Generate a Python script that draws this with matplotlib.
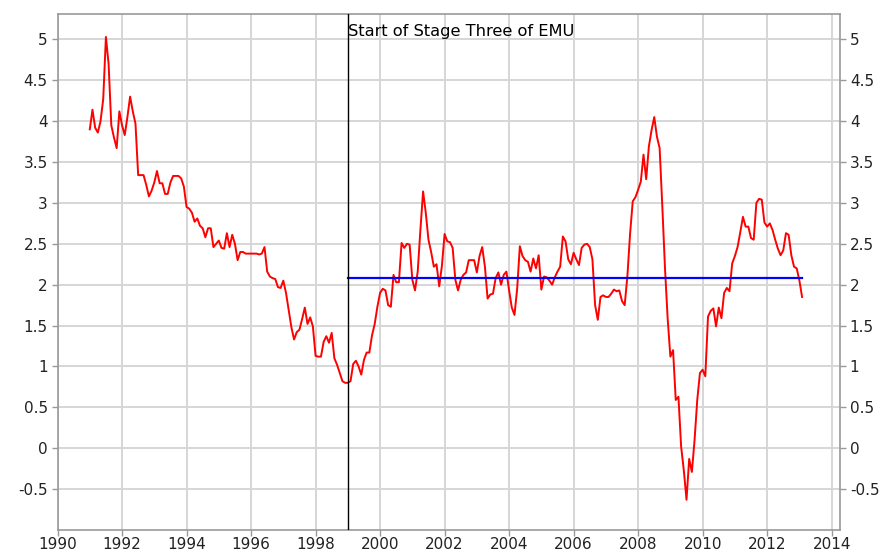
import numpy as np
import matplotlib
matplotlib.use('Agg')
import matplotlib.pyplot as plt
from matplotlib.ticker import FuncFormatter

# Monthly HICP inflation (% y-o-y), Jan 1991 - Feb 2013
hicp_1991 = [3.90, 4.14, 3.92, 3.86, 4.00, 4.27, 5.03, 4.70, 3.95, 3.80, 3.67, 4.12]
hicp_1992 = [3.95, 3.83, 4.05, 4.30, 4.12, 3.97, 3.34, 3.34, 3.34, 3.22, 3.08, 3.15]
hicp_1993 = [3.25, 3.39, 3.24, 3.24, 3.11, 3.11, 3.25, 3.33, 3.33, 3.33, 3.30, 3.20]
hicp_1994 = [2.95, 2.93, 2.88, 2.77, 2.81, 2.72, 2.69, 2.58, 2.69, 2.69, 2.46, 2.50]
hicp_1995 = [2.54, 2.45, 2.44, 2.63, 2.46, 2.61, 2.50, 2.30, 2.40, 2.40, 2.38, 2.38]
hicp_1996 = [2.38, 2.38, 2.38, 2.37, 2.38, 2.46, 2.16, 2.10, 2.08, 2.07, 1.97, 1.96]
hicp_1997 = [2.05, 1.90, 1.69, 1.48, 1.33, 1.42, 1.45, 1.58, 1.72, 1.52, 1.60, 1.49]
hicp_1998 = [1.13, 1.12, 1.12, 1.30, 1.37, 1.29, 1.41, 1.10, 1.02, 0.92, 0.82, 0.80]
hicp_1999 = [0.80, 0.82, 1.03, 1.07, 1.00, 0.90, 1.08, 1.17, 1.17, 1.38, 1.52, 1.73]
hicp_2000 = [1.90, 1.95, 1.93, 1.75, 1.73, 2.12, 2.03, 2.03, 2.51, 2.45, 2.50, 2.49]
hicp_2001 = [2.06, 1.93, 2.16, 2.67, 3.14, 2.88, 2.55, 2.40, 2.22, 2.25, 1.98, 2.23]
hicp_2002 = [2.62, 2.53, 2.52, 2.45, 2.06, 1.93, 2.06, 2.12, 2.15, 2.30, 2.30, 2.30]
hicp_2003 = [2.15, 2.35, 2.46, 2.22, 1.83, 1.88, 1.89, 2.08, 2.15, 2.00, 2.12, 2.16]
hicp_2004 = [1.93, 1.72, 1.63, 1.95, 2.47, 2.35, 2.30, 2.28, 2.16, 2.32, 2.20, 2.36]
hicp_2005 = [1.94, 2.10, 2.09, 2.05, 2.00, 2.09, 2.16, 2.22, 2.59, 2.53, 2.31, 2.25]
hicp_2006 = [2.39, 2.31, 2.24, 2.45, 2.49, 2.50, 2.46, 2.31, 1.75, 1.57, 1.85, 1.87]
hicp_2007 = [1.85, 1.85, 1.89, 1.94, 1.92, 1.93, 1.80, 1.75, 2.10, 2.62, 3.02, 3.07]
hicp_2008 = [3.16, 3.26, 3.59, 3.29, 3.69, 3.89, 4.05, 3.81, 3.67, 2.96, 2.20, 1.58]
hicp_2009 = [1.12, 1.20, 0.59, 0.63, 0.02, -0.27, -0.63, -0.13, -0.29, 0.10, 0.59, 0.92]
hicp_2010 = [0.96, 0.88, 1.61, 1.68, 1.71, 1.49, 1.72, 1.59, 1.90, 1.96, 1.92, 2.26]
hicp_2011 = [2.35, 2.46, 2.64, 2.83, 2.71, 2.71, 2.57, 2.55, 3.00, 3.05, 3.04, 2.76]
hicp_2012 = [2.71, 2.75, 2.67, 2.55, 2.44, 2.36, 2.42, 2.63, 2.61, 2.36, 2.22, 2.20]
hicp_2013 = [2.05, 1.85]

start_year = 1991
emu_start = 1999
emu_avg = 2.08
emu_label = 'Start of Stage Three of EMU'

x_ticks = [1990, 1992, 1994, 1996, 1998, 2000, 2002, 2004, 2006, 2008, 2010, 2012, 2014]
y_ticks = [-0.5, 0, 0.5, 1, 1.5, 2, 2.5, 3, 3.5, 4, 4.5, 5]

values = (hicp_1991 + hicp_1992 + hicp_1993 + hicp_1994 + hicp_1995 + hicp_1996
          + hicp_1997 + hicp_1998 + hicp_1999 + hicp_2000 + hicp_2001 + hicp_2002
          + hicp_2003 + hicp_2004 + hicp_2005 + hicp_2006 + hicp_2007 + hicp_2008
          + hicp_2009 + hicp_2010 + hicp_2011 + hicp_2012 + hicp_2013)
times = start_year + np.arange(len(values)) / 12

plt.rcParams['font.family'] = 'DejaVu Sans'
plt.rcParams['axes.unicode_minus'] = False

fig = plt.figure(figsize=(8.81, 5.54), dpi=100)
ax = fig.add_axes([0.0653, 0.0433, 0.8882, 0.9314])

ax.plot(times, values, color='#ff0000', lw=1.4, zorder=3)
ax.plot([emu_start, times[-1]], [emu_avg, emu_avg], color='#0000ff', lw=1.6, zorder=4)
ax.axvline(emu_start, color='black', lw=1, zorder=5)
ax.text(emu_start + 0.02, 0.958, emu_label, transform=ax.get_xaxis_transform(),
        ha='left', va='baseline', fontsize=11.7, color='black', zorder=6)

ax.set_xlim(1990, 2014.26)
ax.set_ylim(-1.0, 5.31)
ax.set_xticks(x_ticks)
ax.set_yticks(y_ticks)
ax.yaxis.set_major_formatter(FuncFormatter(lambda v, p: '{:g}'.format(v)))

ax.grid(True, color='#d6d6d6', lw=1.4, zorder=0)
ax.set_axisbelow(True)
for s in ax.spines.values():
    s.set_color('#999999')
    s.set_linewidth(1.2)

ax.tick_params(axis='both', length=4, width=1, color='#999999', labelsize=11,
               labelcolor='#222222', pad=1)
ax.tick_params(axis='y', right=True, labelright=True, pad=3)

fig.savefig('out.png', dpi=100)
